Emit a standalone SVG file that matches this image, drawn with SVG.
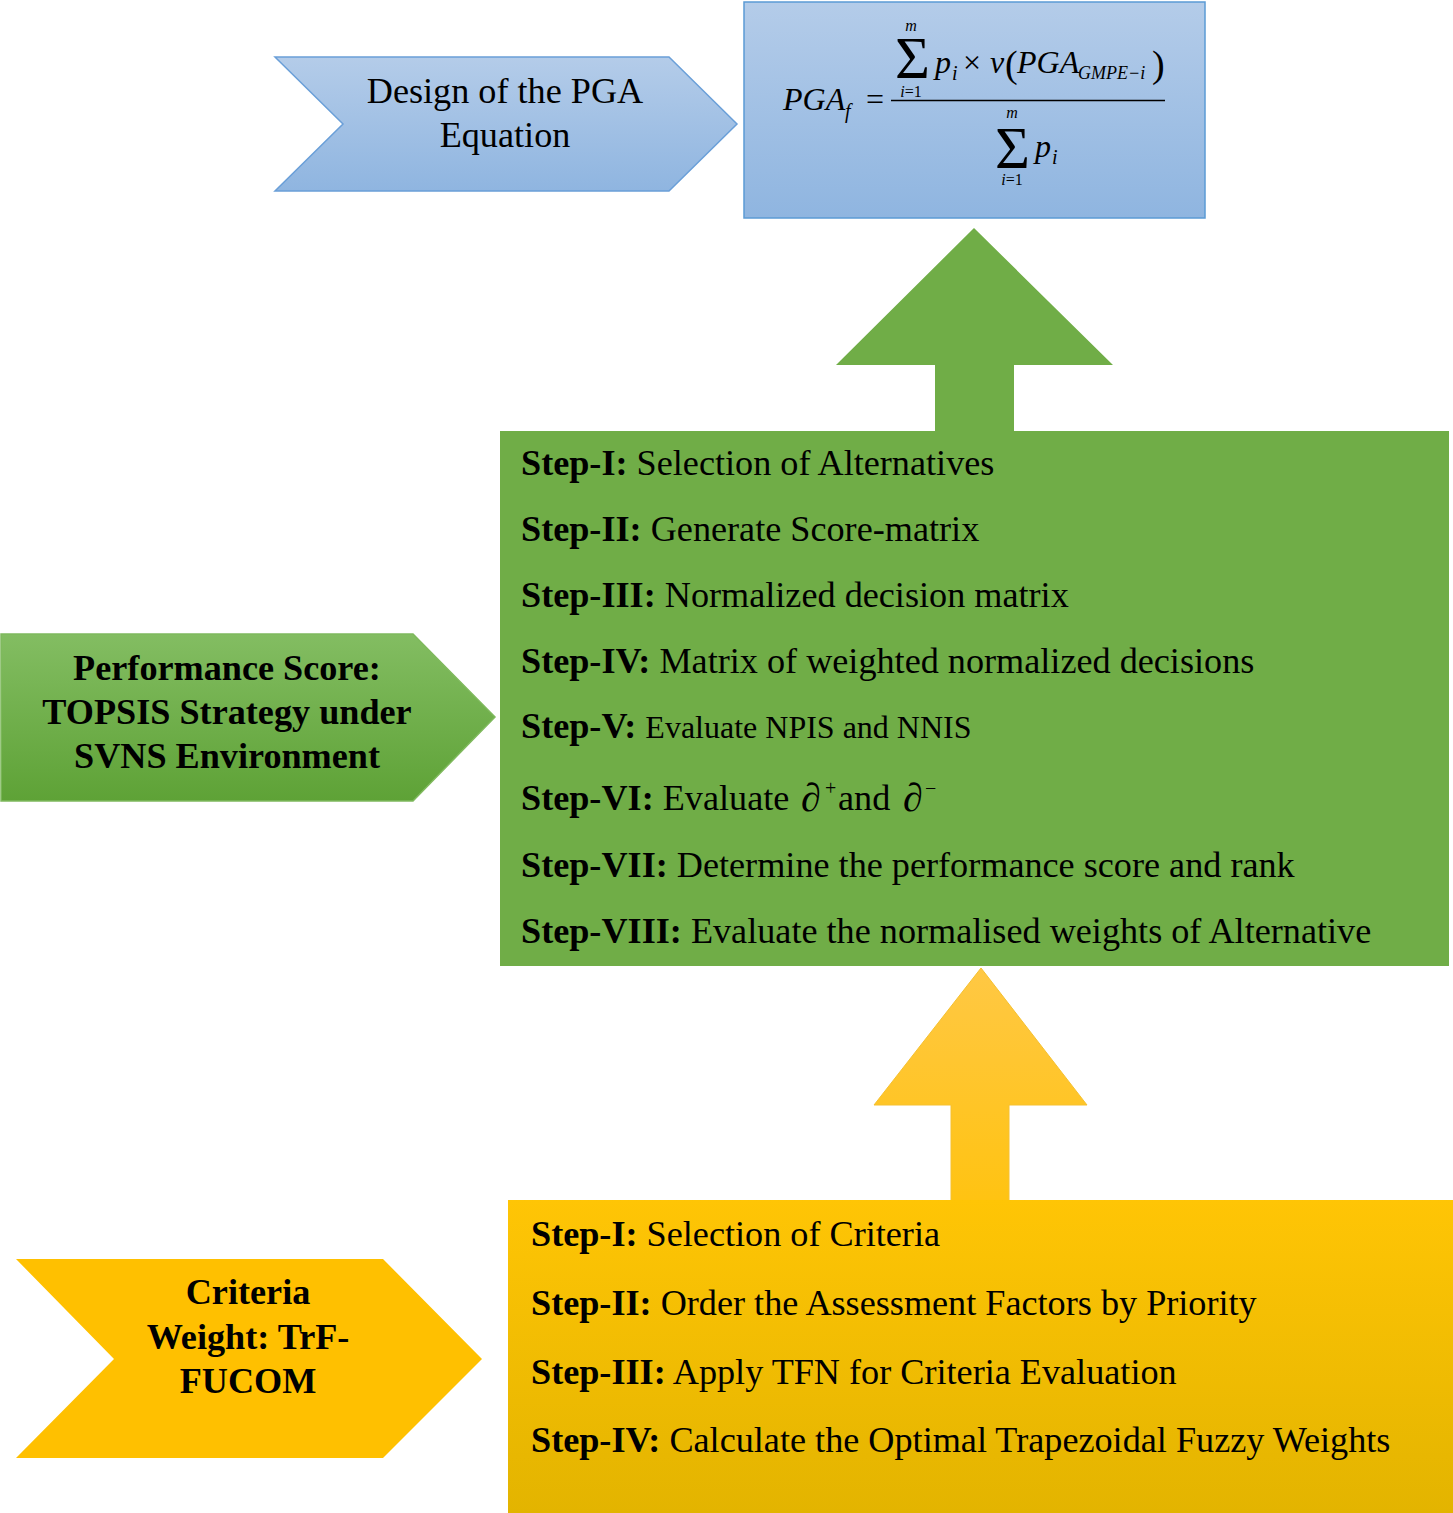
<svg xmlns="http://www.w3.org/2000/svg" width="1453" height="1513" viewBox="0 0 1453 1513">
<defs>
<linearGradient id="gBlue" x1="0" y1="0" x2="0" y2="1"><stop offset="0" stop-color="#b4cce9"/><stop offset="1" stop-color="#8fb5e0"/></linearGradient>
<linearGradient id="gGreen" x1="0" y1="0" x2="0" y2="1"><stop offset="0" stop-color="#83bd62"/><stop offset="1" stop-color="#5ea236"/></linearGradient>
<linearGradient id="gYellowBox" x1="0" y1="0" x2="0" y2="1"><stop offset="0" stop-color="#ffc505"/><stop offset="1" stop-color="#e3b400"/></linearGradient>
<linearGradient id="gYellowArrow" x1="0" y1="0" x2="0" y2="1"><stop offset="0" stop-color="#ffc844"/><stop offset="1" stop-color="#ffc312"/></linearGradient>
</defs>
<style>
text{font-family:"Liberation Serif","Times New Roman",serif;fill:#000}
.t36{font-size:36.2px}
.b{font-weight:bold}
.mid{text-anchor:middle}
.it{font-style:italic}
.m32{font-size:32px}
.m20{font-size:20px}
.m18{font-size:16px}
</style>
<rect width="1453" height="1513" fill="#ffffff"/>

<g id="connectors">
<polygon id="arrow-green" points="974,228 1113,365 1014,365 1014,432 935,432 935,365 836,365" fill="#70ad47"/>
<polygon id="arrow-yellow" points="981,968 1087,1105 1009,1105 1009,1201 951,1201 951,1105 874,1105" fill="url(#gYellowArrow)" stroke="#f5c030" stroke-width="1"/>
</g>

<g id="node-pga-label">
<polygon points="275,57 669,57 737,124 669,191 275,191 343,124" fill="url(#gBlue)" stroke="#6a9fd8" stroke-width="1.5"/>
<text class="t36 mid" x="505" y="103">Design of the PGA</text>
<text class="t36 mid" x="505" y="147">Equation</text>
</g>

<g id="node-pga-equation">
<rect x="744" y="2" width="461" height="216" fill="url(#gBlue)" stroke="#5b9bd5" stroke-width="1.5"/>
<text class="it m32" x="783" y="110">PGA</text>
<text class="it m20" x="845" y="118">f</text>
<text class="m32" x="866" y="110">=</text>
<line x1="891" y1="100.5" x2="1165" y2="100.5" stroke="#000" stroke-width="1.6"/>
<text font-size="60" x="895" y="78">Σ</text>
<text class="it m18 mid" x="911" y="31">m</text>
<text class="m18 mid" x="911" y="97"><tspan class="it">i</tspan>=1</text>
<text class="it m32" x="935" y="73">p</text>
<text class="it m20" x="952" y="80">i</text>
<text class="m32" x="963" y="73">×</text>
<text class="it m32" x="990" y="73">v</text>
<text font-size="38" x="1005" y="77">(</text>
<text class="it m32" x="1017" y="73">PGA</text>
<text class="it" font-size="18" x="1078" y="79">GMPE−i</text>
<text font-size="38" x="1152" y="77">)</text>
<text font-size="60" x="995" y="168">Σ</text>
<text class="it m18 mid" x="1012" y="118">m</text>
<text class="m18 mid" x="1012" y="185"><tspan class="it">i</tspan>=1</text>
<text class="it m32" x="1035" y="157">p</text>
<text class="it m20" x="1052" y="164">i</text>
</g>

<g id="node-topsis-label">
<polygon points="1,634 413,634 495,717 413,801 1,801" fill="url(#gGreen)" stroke="#7fb95d" stroke-width="1.5"/>
<text class="t36 b mid" x="227" y="680">Performance Score:</text>
<text class="t36 b mid" x="227" y="724">TOPSIS Strategy under</text>
<text class="t36 b mid" x="227" y="768">SVNS Environment</text>
</g>

<g id="node-topsis-steps">
<rect x="500" y="431" width="949" height="535" fill="#70ad47"/>
<text class="t36" x="521" y="475"><tspan class="b">Step-I:</tspan> Selection of Alternatives</text>
<text class="t36" x="521" y="541"><tspan class="b">Step-II:</tspan> Generate Score-matrix</text>
<text class="t36" x="521" y="607"><tspan class="b">Step-III:</tspan> Normalized decision matrix</text>
<text class="t36" x="521" y="673"><tspan class="b">Step-IV:</tspan> Matrix of weighted normalized decisions</text>
<text class="t36" x="521" y="738"><tspan class="b">Step-V:</tspan> <tspan font-size="32">Evaluate NPIS and NNIS</tspan></text>
<text class="t36" x="521" y="810"><tspan class="b">Step-VI:</tspan> Evaluate</text>
<text class="it" font-size="40" x="801" y="811">∂</text>
<text font-size="20" x="825" y="795">+</text>
<text class="t36" x="838" y="810">and</text>
<text class="it" font-size="40" x="903" y="811">∂</text>
<text font-size="20" x="925" y="795">−</text>
<text class="t36" x="521" y="877"><tspan class="b">Step-VII:</tspan> Determine the performance score and rank</text>
<text class="t36" x="521" y="943"><tspan class="b">Step-VIII:</tspan> Evaluate the normalised weights of Alternative</text>
</g>

<g id="node-fucom-label">
<polygon points="16,1259 383,1259 482,1359 383,1458 16,1458 114,1359" fill="#ffc000"/>
<text class="t36 b mid" x="248" y="1304">Criteria</text>
<text class="t36 b mid" x="248" y="1349">Weight: TrF-</text>
<text class="t36 b mid" x="248" y="1393">FUCOM</text>
</g>

<g id="node-fucom-steps">
<rect x="508" y="1200" width="945" height="313" fill="url(#gYellowBox)"/>
<text class="t36" x="531" y="1246"><tspan class="b">Step-I:</tspan> Selection of Criteria</text>
<text class="t36" x="531" y="1315"><tspan class="b">Step-II:</tspan> Order the Assessment Factors by Priority</text>
<text class="t36" x="531" y="1384"><tspan class="b">Step-III:</tspan> Apply TFN for Criteria Evaluation</text>
<text class="t36" x="531" y="1452"><tspan class="b">Step-IV:</tspan> Calculate the Optimal Trapezoidal Fuzzy Weights</text>
</g>
</svg>
